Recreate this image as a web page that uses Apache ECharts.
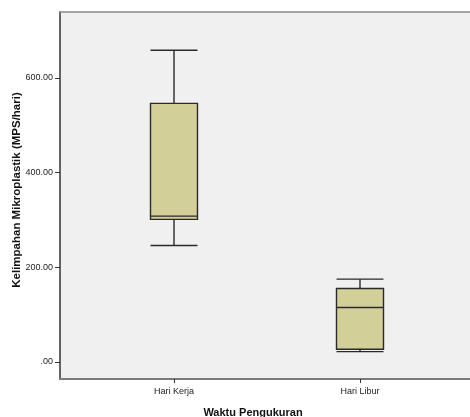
<!DOCTYPE html>
<html>
<head>
<meta charset="utf-8">
<script src="https://cdn.jsdelivr.net/npm/echarts@6/dist/echarts.min.js"></script>
<style>html,body{margin:0;padding:0;background:#fff}#c{width:470px;height:417px}</style>
</head>
<body>
<div id="c"></div>
<script>
const categories = ['Hari Kerja', 'Hari Libur'];
// [min, Q1, median, Q3, max]
const hariKerja = [246, 301, 308, 546, 658];
const hariLibur = [22, 27, 115, 155, 175];
const yTicks = [0, 200, 400, 600, 800];

const chart = echarts.init(document.getElementById('c'), null, {renderer: 'canvas'});
const font = 'Arial, "Liberation Sans", sans-serif';
const noBounds = {containLabel: false, outerBoundsMode: 'none'};
chart.setOption({
  animation: false,
  backgroundColor: '#ffffff',
  grid: [
    Object.assign({left: 60, right: 0, top: 12, bottom: 38, show: true, backgroundColor: '#f0f0f0', borderWidth: 0, z: 0}, noBounds),
    Object.assign({left: 81, right: 17, top: -17, bottom: 55, show: false}, noBounds),
    Object.assign({left: 81, right: 17, top: 12, bottom: 38, show: false}, noBounds)
  ],
  xAxis: [
    {gridIndex: 0, type: 'value', min: 0, max: 1, position: 'bottom',
     axisLine: {show: true, lineStyle: {color: '#7a7a7a', width: 2}},
     axisTick: {show: false}, axisLabel: {show: false}, splitLine: {show: false},
     name: 'Waktu Pengukuran', nameLocation: 'middle', nameGap: 28,
     nameTextStyle: {fontFamily: font, fontWeight: 'bold', fontSize: 11, color: '#111', padding: [0, 24, 0, 0]}},
    {gridIndex: 0, type: 'value', min: 0, max: 1, position: 'top',
     axisLine: {show: true, lineStyle: {color: '#8a8a8a', width: 1.5}},
     axisTick: {show: false}, axisLabel: {show: false}, splitLine: {show: false}},
    {gridIndex: 1, type: 'category', data: categories, position: 'bottom', show: false},
    {gridIndex: 2, type: 'category', data: categories, position: 'bottom',
     axisLine: {show: false},
     axisTick: {show: true, alignWithLabel: true, length: 4, lineStyle: {color: '#333'}},
     axisLabel: {fontFamily: font, fontSize: 9, color: '#222', margin: 8},
     splitLine: {show: false}}
  ],
  yAxis: [
    {gridIndex: 0, type: 'value', min: 0, max: 1,
     axisLine: {show: true, lineStyle: {color: '#333', width: 1.5}},
     axisTick: {show: false}, axisLabel: {show: false}, splitLine: {show: false},
     name: 'Kelimpahan Mikroplastik (MPS/hari)', nameLocation: 'middle', nameGap: 37, nameRotate: 90,
     nameTextStyle: {fontFamily: font, fontWeight: 'bold', fontSize: 11.5, color: '#111', padding: [0, 0, 0, 11]}},
    {gridIndex: 1, type: 'value', min: yTicks[0], max: yTicks[yTicks.length - 1], interval: 200, offset: 21,
     axisLine: {show: false},
     axisTick: {show: true, length: 5, lineStyle: {color: '#333'}},
     axisLabel: {fontFamily: font, fontSize: 9, color: '#222', margin: 7,
       formatter: v => v === 0 ? '.00' : v.toFixed(2)},
     splitLine: {show: false}},
    {gridIndex: 2, type: 'value', min: 0, max: 1, show: false}
  ],
  series: [{
    type: 'boxplot',
    xAxisIndex: 2, yAxisIndex: 1,
    boxWidth: [47, 47],
    itemStyle: {color: '#d3cf98', borderColor: '#2a2a2a', borderWidth: 1.4},
    data: [hariKerja, hariLibur]
  }]
});
</script>
</body>
</html>
